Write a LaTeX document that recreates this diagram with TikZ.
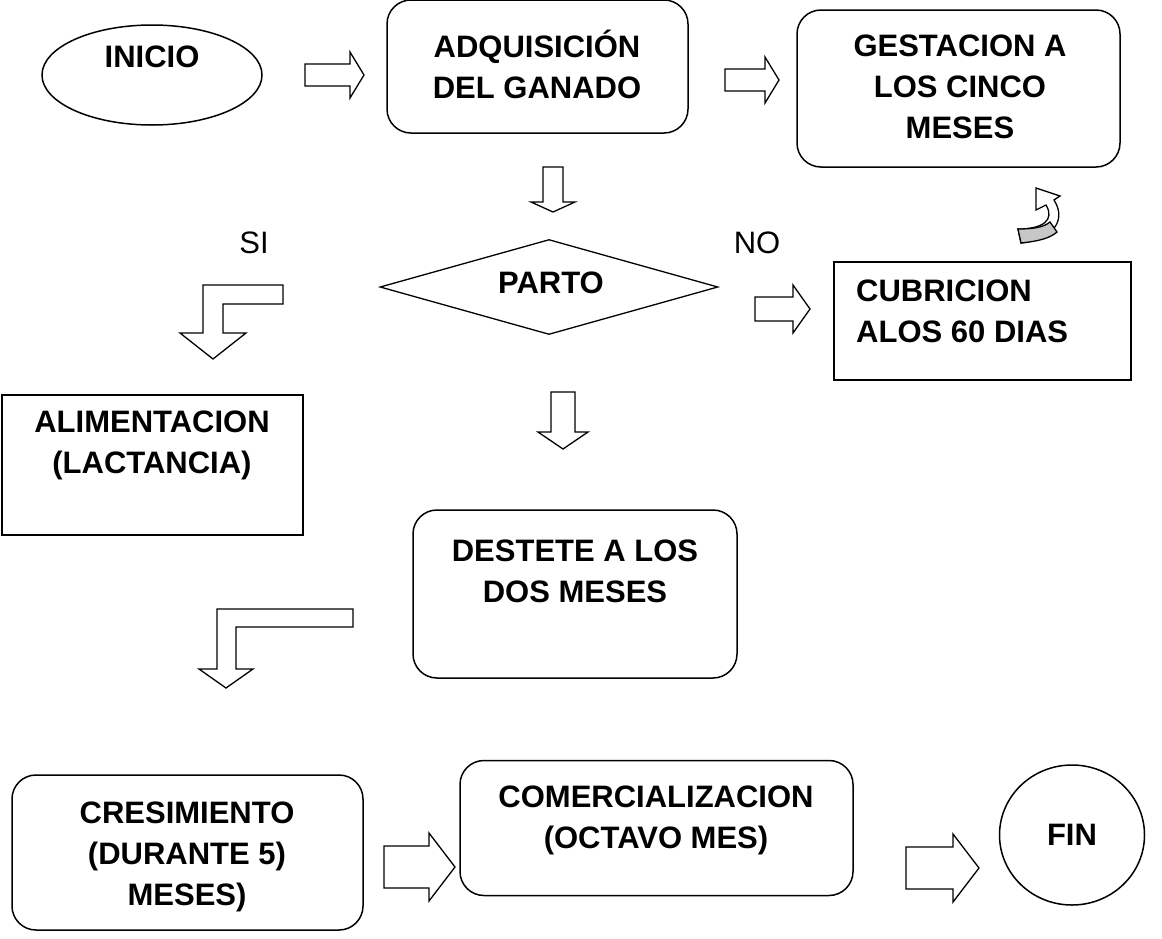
\documentclass[tikz,border=0pt]{standalone}
\usepackage{fontspec}
\setmainfont{Liberation Sans}
\usetikzlibrary{shapes.geometric}

\tikzset{
  caja/.style={draw,line width=1.5pt,rounded corners=24pt,inner sep=0pt},
  cajar/.style={draw,line width=1.5pt,inner sep=0pt},
  txt/.style={align=center,font=\bfseries\fontsize{31}{41}\selectfont,inner sep=0pt},
  flecha/.style={draw,line width=1.3pt,fill=white,line join=miter}
}

\begin{document}
\begin{tikzpicture}[x=1pt,y=-1pt]
\useasboundingbox (0,0) rectangle (1162,938);
% nodos
\node[ellipse,draw,line width=1.5pt,minimum width=220pt,minimum height=100pt] (inicio) at (152,75) {};
\node[txt] (inicio-t) at (152,57) {INICIO};
\node[caja,minimum width=301pt,minimum height=133pt] (adq) at (537.5,66.5) {};
\node[txt] (adq-t) at (537,64) {ADQUISICIÓN\\DEL GANADO};
\node[caja,minimum width=323pt,minimum height=157pt] (gest) at (958.5,88.5) {};
\node[txt] (gest-t) at (960,87) {GESTACION A\\LOS CINCO\\MESES};
\node[diamond,draw,line width=1.3pt,minimum width=338pt,minimum height=95pt,inner sep=0pt,aspect=3.5] (parto) at (549,287) {};
\node[txt] (parto-t) at (551,283) {PARTO};
\node[font=\fontsize{31}{41}\selectfont] (si) at (254,243) {SI};
\node[font=\fontsize{31}{41}\selectfont] (no) at (757,243) {NO};
\node[cajar,minimum width=297pt,minimum height=118pt] (cubri) at (982.5,321) {};
\node[txt,align=left,anchor=north west] (cubri-t) at (856,280) {CUBRICION\\ALOS 60 DIAS};
\node[cajar,minimum width=301pt,minimum height=140pt] (alim) at (152.5,465) {};
\node[txt] (alim-t) at (152,445) {ALIMENTACION\\(LACTANCIA)};
\node[caja,minimum width=324pt,minimum height=168pt] (dest) at (575,594) {};
\node[txt] (dest-t) at (575,571) {DESTETE A LOS\\DOS MESES};
\node[caja,minimum width=351pt,minimum height=155pt] (cre) at (187.5,852.5) {};
\node[txt] (cre-t) at (187,857) {CRESIMIENTO\\(DURANTE 5)\\MESES)};
\node[caja,minimum width=393pt,minimum height=135pt] (com) at (656.5,828) {};
\node[txt] (com-t) at (656,820) {COMERCIALIZACION\\(OCTAVO MES)};
\node[ellipse,draw,line width=1.5pt,minimum width=145pt,minimum height=140pt] (fin) at (1072,835) {};
\node[txt] (fin-t) at (1072,835) {FIN};
% flechas
\draw[flecha] (305,64)--(350,64)--(350,52)--(364,75)--(350,98)--(350,86)--(305,86)--cycle;
\draw[flecha] (725,69)--(765,69)--(765,57)--(779,80)--(765,103)--(765,91)--(725,91)--cycle;
\draw[flecha] (543,167)--(563,167)--(563,202)--(575,202)--(553,212)--(531,202)--(543,202)--cycle;
\draw[flecha] (551,392)--(575,392)--(575,432)--(588,432)--(563,449)--(538,432)--(551,432)--cycle;
\draw[flecha] (755,297)--(793,297)--(793,285)--(810,309)--(793,333)--(793,321)--(755,321)--cycle;
\draw[flecha] (384,846)--(429,846)--(429,833)--(455,867)--(429,901)--(429,888)--(384,888)--cycle;
\draw[flecha] (906,847)--(953,847)--(953,834)--(979,868)--(953,902)--(953,889)--(906,889)--cycle;
% flechas dobladas
\draw[flecha] (203,285)--(283,285)--(283,304)--(223,304)--(223,333)--(246,333)--(213,359)--(180,333)--(203,333)--cycle;
\draw[flecha] (217,609)--(353,609)--(353,627)--(236,627)--(236,669)--(253,669)--(226,688)--(199,669)--(217,669)--cycle;
% flecha curva
\draw[flecha] (1018,229)--(1021,243) .. controls (1050,240) and (1068,222) .. (1054,200)
  --(1060,196)--(1036,188)--(1036,210)--(1046,205) .. controls (1055,220) and (1043,229) .. cycle;
\draw[line width=1.3pt,fill=black!22] (1018,229)--(1021,243) .. controls (1040,241) and (1050,238) .. (1057,232)
  -- (1050,222) .. controls (1043,228) and (1030,229) .. cycle;
\end{tikzpicture}
\end{document}
